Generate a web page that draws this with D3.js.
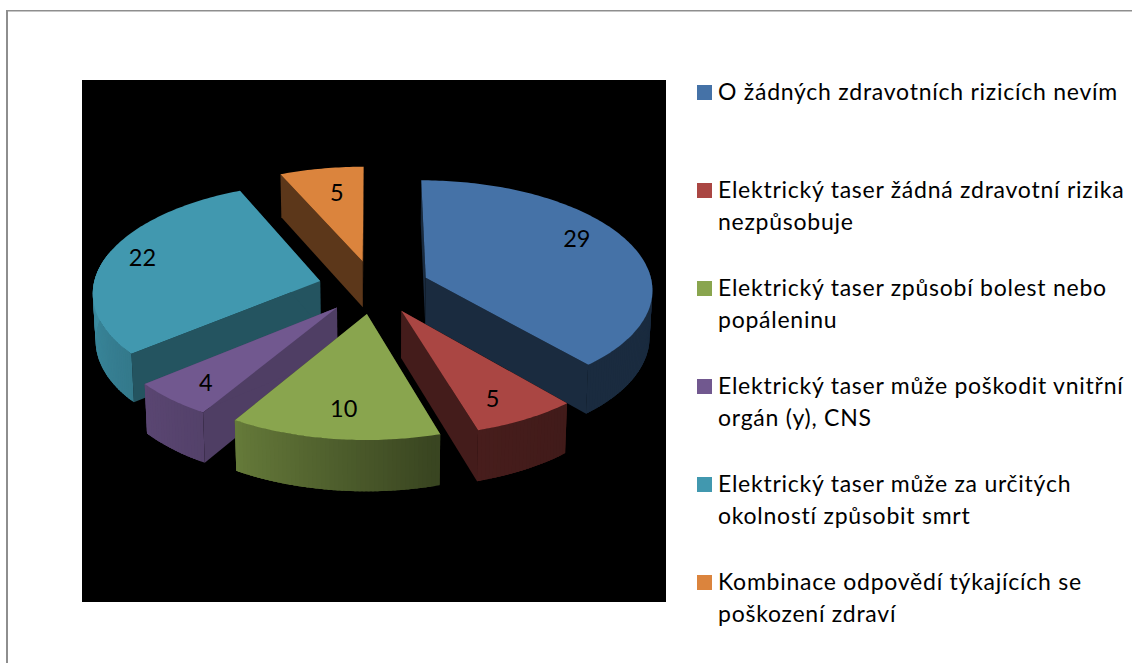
<!DOCTYPE html>
<html><head><meta charset="utf-8">
<script src="https://cdn.jsdelivr.net/npm/d3@7/dist/d3.min.js"></script>
<style>html,body{margin:0;padding:0;background:#fff}svg{display:block}text{font-family:Lato,Carlito,sans-serif;fill:#000}</style>
</head><body><svg id="c" width="1132" height="663"></svg>
<script>
const categories = [
  ["O žádných zdravotních rizicích nevím"],
  ["Elektrický taser žádná zdravotní rizika","nezpůsobuje"],
  ["Elektrický taser způsobí bolest nebo","popáleninu"],
  ["Elektrický taser může poškodit vnitřní","orgán (y), CNS"],
  ["Elektrický taser může za určitých","okolností způsobit smrt"],
  ["Kombinace odpovědí týkajících se","poškození zdraví"]
];
const values = [29,5,10,4,22,5];
const topColors = ["#4572A7","#AA4643","#89A54E","#71588F","#4198AF","#DB843D"];
const radialShade = [0.38,0.40,0.45,0.70,0.55,0.42];
const labelNudge = [[-8,-11],[-4,5],[2,0],[-4,5],[-10,-4],[7,5]];

const W=1132,H=663;
const svg=d3.select("#c");
const cx=374,cy=287,A=227,B=108.5,k=0.0956,explode=0.245,depth=46.5,bottomScale=0.99;
const deg=Math.PI/180;

// frame + plot background
svg.append("rect").attr("x",6).attr("y",10).attr("width",2).attr("height",H-10).attr("fill","#8e8e8e");
svg.append("rect").attr("x",6).attr("y",10).attr("width",W-6).attr("height",1.5).attr("fill","#8e8e8e");
svg.append("rect").attr("x",82).attr("y",80).attr("width",584).attr("height",522).attr("fill","#000");

const pie=d3.pie().sort(null).value(d=>d);
const arcs=pie(values).map((d,i)=>({...d,i,mid:(d.startAngle+d.endAngle)/2}));

function project(X,V,bottom){
  const s=1/(1-k*V);
  const x=A*X*s,y=B*V*s;
  return bottom?[cx+x*bottomScale,cy+y*bottomScale+depth*s]:[cx+x,cy+y];
}
function pt(d,a,r,bottom){
  const X=r*Math.sin(a)+explode*Math.sin(d.mid);
  const V=-r*Math.cos(a)-explode*Math.cos(d.mid);
  return project(X,V,bottom);
}
const line=d3.line().curve(d3.curveLinear);
const shadeByAngle=d3.scaleLinear().domain([90,140,165,211,232,270,300]).range([0.38,0.38,0.42,0.74,0.80,0.92,0.95]).clamp(true);
const order=arcs.slice().sort((a,b)=>(-Math.cos(a.mid))-(-Math.cos(b.mid)));

const g=svg.append("g");
order.forEach(d=>{
  const col=topColors[d.i];
  const dark=d3.interpolateRgb("#000",col)(radialShade[d.i]);
  const sl=g.append("g");
  [d.startAngle,d.endAngle].forEach(a=>{
    sl.append("path").attr("fill",dark)
      .attr("d",line([pt(d,0,0,false),pt(d,a,1,false),pt(d,a,1,true),pt(d,0,0,true)])+"Z");
  });
  // outer wall: overlapping narrow strips, only on the side that faces the viewer
  const n=Math.ceil((d.endAngle-d.startAngle)/deg);
  const angs=d3.range(n+1).map(j=>d.startAngle+(d.endAngle-d.startAngle)*j/n);
  d3.pairs(angs).forEach(([a,b])=>{
    const m=(a+b)/2/deg;
    if(m<85||m>285) return;
    const e=Math.min(b+1.5*deg,d.endAngle);
    const c=d3.interpolateRgb("#000",col)(shadeByAngle(m));
    sl.append("path").attr("fill",c)
      .attr("d",line([pt(d,a,1,false),pt(d,e,1,false),pt(d,e,1,true),pt(d,a,1,true)])+"Z");
  });
  const top=[pt(d,0,0,false)].concat(angs.map(a=>pt(d,a,1,false)));
  sl.append("path").attr("fill",col).attr("d",line(top)+"Z");
});

// data labels
svg.append("g").selectAll("text").data(arcs).join("text")
  .attr("x",d=>pt(d,d.mid,0.78,false)[0]+labelNudge[d.i][0])
  .attr("y",d=>pt(d,d.mid,0.78,false)[1]+labelNudge[d.i][1])
  .attr("text-anchor","middle").attr("dy","0.35em")
  .attr("font-size",23.5).text(d=>d.data);

// legend
const yLeg=d3.scaleLinear().domain([0,5]).range([100,590]);
const leg=svg.append("g").selectAll("g").data(categories).join("g");
leg.append("rect").attr("x",697).attr("y",(d,i)=>yLeg(i)-15).attr("width",15).attr("height",15)
  .attr("fill",(d,i)=>topColors[i]);
leg.each(function(d,i){
  d3.select(this).selectAll("text").data(d).join("text")
    .attr("x",718).attr("y",(t,j)=>yLeg(i)+j*32)
    .attr("font-size",23).attr("letter-spacing",0.75).text(t=>t);
});
</script></body></html>
